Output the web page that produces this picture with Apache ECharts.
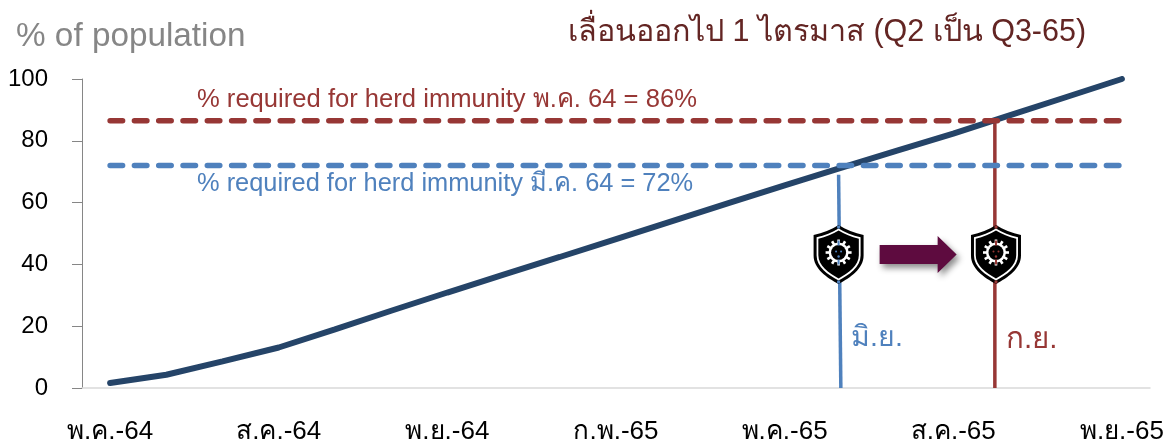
<!DOCTYPE html>
<html><head><meta charset="utf-8">
<style>html,body{margin:0;padding:0;background:#fff}#c{width:1169px;height:443px}</style>
<script src="https://cdn.jsdelivr.net/npm/echarts@6/dist/echarts.min.js"></script>
</head><body><div id="c"></div>
<script>
const months = ['พ.ค.-64','มิ.ย.-64','ก.ค.-64','ส.ค.-64','ก.ย.-64','ต.ค.-64','พ.ย.-64','ธ.ค.-64','ม.ค.-65','ก.พ.-65','มี.ค.-65','เม.ย.-65','พ.ค.-65','มิ.ย.-65','ก.ค.-65','ส.ค.-65','ก.ย.-65','ต.ค.-65','พ.ย.-65'];
const coverage = [1.6,4.3,8.6,13.1,19,25,30.9,36.7,42.4,48.2,54,59.8,65.6,71.2,76.8,82.3,88.2,94.1,100];
const herdMay = months.map(()=>86.5);
const herdMar = months.map(()=>72);
const dropJun = [[12.96,69],[13.0,0]];
const dropSep = [[15.74,86],[15.74,0]];
const shieldJun = [[12.96,43.2]];
const shieldSep = [[15.76,43.2]];
const arrowSpan = [[13.69,43.2],[15.06,43.2]];

const FONT = '"Liberation Sans","Noto Sans",sans-serif';
const RED='#973735', BLUE='#4f81bd', NAVY='#254468';
const shieldPath = k => `M0 ${-29.5*k} C${7*k} ${-25*k} ${16*k} ${-21.5*k} ${25*k} ${-19.5*k} L${25*k} ${1*k} C${25*k} ${14*k} ${12*k} ${23*k} 0 ${29.5*k} C${-12*k} ${23*k} ${-25*k} ${14*k} ${-25*k} ${1*k} L${-25*k} ${-19.5*k} C${-16*k} ${-21.5*k} ${-7*k} ${-25*k} 0 ${-29.5*k} Z`;
const shieldColor = {6:BLUE,7:RED};

function renderShield(params, api){
  const p = api.coord([api.value(0), api.value(1)]);
  const col = shieldColor[params.seriesIndex];
  const kids = [
    {type:'path',shape:{pathData:shieldPath(1),x:-25,y:-29.5,width:50,height:59},style:{fill:'#000'}},
    {type:'path',shape:{pathData:shieldPath(.88),x:-22,y:-26,width:44,height:52},style:{fill:'#fff'}},
    {type:'path',shape:{pathData:shieldPath(.81),x:-20.25,y:-23.9,width:40.5,height:47.8},style:{fill:'#000'}},
    {type:'rect',shape:{x:-1.5,y:-29,width:3,height:3},style:{fill:col}},
    {type:'rect',shape:{x:-1.5,y:26,width:3,height:3},style:{fill:col}},
    {type:'circle',shape:{cx:0,cy:-2,r:10},style:{fill:'#fff'}},
    {type:'circle',shape:{cx:0,cy:-2,r:7.5},style:{fill:'#000'}}
  ];
  for(let i=0;i<12;i++){
    kids.push({type:'rect',shape:{x:-1.3,y:-13,width:2.6,height:4},style:{fill:'#fff'},rotation:i*Math.PI/6,originX:0,originY:0,y:-2});
  }
  kids.push({type:'rect',shape:{x:-1,y:-14,width:2,height:5},style:{fill:col}});
  kids.push({type:'rect',shape:{x:-1,y:5,width:2,height:5},style:{fill:col}});
  kids.push({type:'circle',shape:{cx:-2.5,cy:-3,r:1},style:{fill:col}});
  kids.push({type:'circle',shape:{cx:2.5,cy:-3,r:1},style:{fill:col}});
  kids.push({type:'circle',shape:{cx:0,cy:2,r:1.2},style:{fill:col}});
  return {type:'group',x:p[0],y:p[1],children:kids};
}

function renderArrow(params, api){
  if(params.dataIndex!==0) return null;
  const a = api.coord([arrowSpan[0][0],arrowSpan[0][1]]);
  const b = api.coord([arrowSpan[1][0],arrowSpan[1][1]]);
  const y=a[1], h=b[0]-19;
  return {type:'polygon',shape:{points:[[a[0],y-9.5],[h,y-9.5],[h,y-18.5],[b[0],y],[h,y+18.5],[h,y+9.5],[a[0],y+9.5]]},
    style:{fill:'#5e0b3f',shadowBlur:6,shadowColor:'rgba(0,0,0,.45)',shadowOffsetX:3,shadowOffsetY:4}};
}

const txt = (x,y,text,fill,size,align)=>({type:'text',x,y,z:20,style:{text,fill,fontFamily:FONT,fontSize:size,textAlign:align||'left',textVerticalAlign:'middle'}});

const chart = echarts.init(document.getElementById('c'),null,{renderer:'canvas'});
chart.setOption({
  animation:false,
  grid:{left:82,right:19,top:79,bottom:55,containLabel:false,outerBoundsMode:'none'},
  xAxis:[
    {type:'category',data:months,boundaryGap:true,
     axisTick:{show:false},
     axisLine:{lineStyle:{color:'#d9d9d9',width:1.5}},
     axisLabel:{interval:2,color:'#000',fontFamily:FONT,fontSize:26,margin:31,hideOverlap:false,showMinLabel:true,showMaxLabel:true}},
    {type:'value',min:-0.5,max:18.5,show:false}
  ],
  yAxis:{type:'value',min:0,max:100,interval:20,
    splitLine:{show:false},
    axisLine:{show:true,onZero:false,lineStyle:{color:'#868686',width:1}},
    axisTick:{show:true,length:10,lineStyle:{color:'#868686',width:1}},
    axisLabel:{color:'#000',fontFamily:FONT,fontSize:24,margin:34}},
  series:[
    {name:'drop Jun',type:'line',xAxisIndex:1,data:dropJun,symbol:'none',z:2,lineStyle:{color:BLUE,width:3.5}},
    {name:'drop Sep',type:'line',xAxisIndex:1,data:dropSep,symbol:'none',z:2,lineStyle:{color:RED,width:3.5}},
    {name:'coverage',type:'line',data:coverage,symbol:'none',z:3,lineStyle:{color:NAVY,width:6,cap:'round'}},
    {name:'herd Mar',type:'line',data:herdMar,symbol:'none',z:4,lineStyle:{color:BLUE,width:5.5,cap:'round',type:[12.5,11.8]}},
    {name:'herd May',type:'line',data:herdMay,symbol:'none',z:5,lineStyle:{color:RED,width:5.5,cap:'round',type:[12.5,11.8]}},
    {name:'arrow',type:'custom',xAxisIndex:1,data:arrowSpan,renderItem:renderArrow,z:6,clip:false},
    {name:'shield Jun',type:'custom',xAxisIndex:1,data:shieldJun,renderItem:renderShield,z:7,clip:false},
    {name:'shield Sep',type:'custom',xAxisIndex:1,data:shieldSep,renderItem:renderShield,z:7,clip:false}
  ],
  graphic:[
    txt(16,37,'% of population','#868686',33.3),
    txt(568,33,'เลื่อนออกไป 1 ไตรมาส (Q2 เป็น Q3-65)','#632523',30.5),
    txt(197,100,'% required for herd immunity พ.ค. 64 = 86%',RED,25.6),
    txt(197,184,'% required for herd immunity มี.ค. 64 = 72%',BLUE,25.4),
    txt(851,338,'มิ.ย.',BLUE,28.5),
    txt(1006,340,'ก.ย.',RED,29.5)
  ]
});
</script></body></html>
